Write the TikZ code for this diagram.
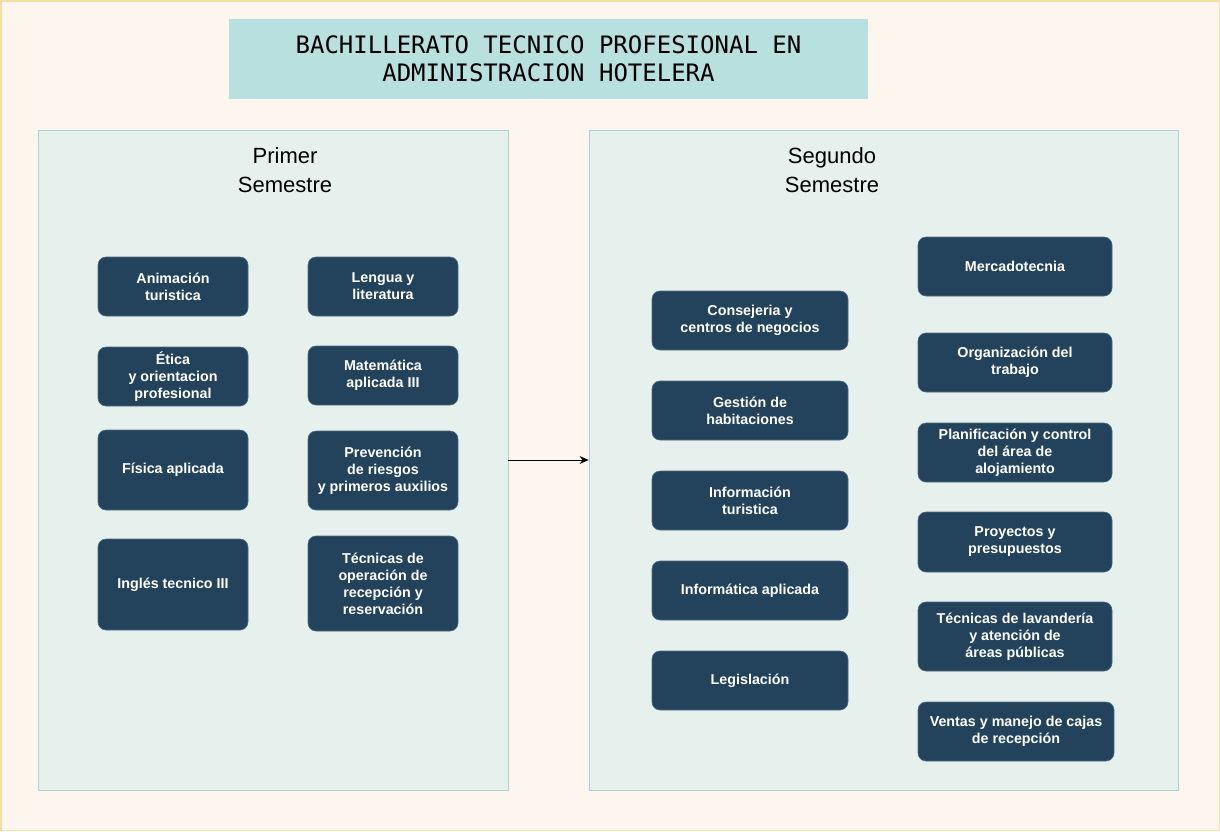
\documentclass[tikz,border=0pt]{standalone}
\usepackage{fontspec}
\setmainfont{Liberation Sans}
\newfontfamily\titlefont{DejaVu Sans Mono}
\usetikzlibrary{arrows.meta}

\definecolor{pagebg}{HTML}{FDF6EF}
\definecolor{pageline}{HTML}{F3DFA4}
\definecolor{titlefill}{HTML}{B8E0DE}
\definecolor{panelfill}{HTML}{E6F1ED}
\definecolor{panelline}{HTML}{A9D3D5}
\definecolor{coursefill}{HTML}{23425B}
\definecolor{courseline}{HTML}{4E6B80}

\tikzset{
  panel/.style={draw=panelline, fill=panelfill, line width=0.8pt},
  course/.style={draw=courseline, fill=coursefill, rounded corners=8pt,
    text=white, align=center, inner sep=2pt, line width=0.6pt,
    font=\fontsize{14.3}{17}\selectfont\bfseries},
  semtitle/.style={align=center, font=\fontsize{22}{29}\selectfont},
}

\begin{document}
\begin{tikzpicture}[x=1pt, y=-1pt]
        \useasboundingbox (0,0) rectangle (1220,831);
        \fill [pagebg] (0,0) rectangle (1220,831);
        \draw [pageline, line width=1.5pt] (0.75,0.75) rectangle (1219.25,830.25);

        % title
        \node [fill=titlefill, minimum width=639pt, minimum height=80pt, align=center,
               font=\titlefont\fontsize{24}{28}\selectfont] (title) at (548.5,59)
               {BACHILLERATO TECNICO PROFESIONAL EN\\ADMINISTRACION HOTELERA};

        % semesters
        \node [panel, minimum width=470pt, minimum height=660pt] (sem1) at (273,460) {};
        \node [panel, minimum width=589pt, minimum height=660pt] (sem2) at (883.5,460) {};
        \node [semtitle] (sem1title) at (285,170) {Primer\\Semestre};
        \node [semtitle] (sem2title) at (832,170) {Segundo\\Semestre};

        \draw [-{Stealth[length=9pt, width=8pt]}, line width=0.8pt] (sem1.east) -- (sem2.west);

        % primer semestre
        \node [course, minimum width=150pt, minimum height=59pt] (anim) at (173,286.5) {Animación\\turistica};
        \node [course, minimum width=150pt, minimum height=59pt] (lengua) at (383,286.5) {Lengua y\\literatura};
        \node [course, minimum width=150pt, minimum height=59pt] (etica) at (173,376.5) {Ética\\y orientacion\\profesional};
        \node [course, minimum width=150pt, minimum height=59pt] (mate) at (383,375.5) {Matemática\\aplicada III};
        \node [course, minimum width=150pt, minimum height=80pt] (fisica) at (173,470) {Física aplicada};
        \node [course, minimum width=150pt, minimum height=79pt] (riesgos) at (383,470.5) {Prevención\\de riesgos\\y primeros auxilios};
        \node [course, minimum width=150pt, minimum height=91pt] (ingles) at (173,584.5) {Inglés tecnico III};
        \node [course, minimum width=150pt, minimum height=95pt] (recep) at (383,583.5) {Técnicas de\\operación de\\recepción y\\reservación};

        % segundo semestre
        \node [course, minimum width=196pt, minimum height=59pt] (conse) at (750,320.5) {Consejeria y\\centros de negocios};
        \node [course, minimum width=196pt, minimum height=59pt] (habit) at (750,410.5) {Gestión de\\habitaciones};
        \node [course, minimum width=196pt, minimum height=59pt] (infotur) at (750,500.5) {Información\\turistica};
        \node [course, minimum width=196pt, minimum height=59pt] (infoapl) at (750,590.5) {Informática aplicada};
        \node [course, minimum width=196pt, minimum height=59pt] (legis) at (750,680.5) {Legislación};

        \node [course, minimum width=194pt, minimum height=59pt] (merca) at (1015,266.5) {Mercadotecnia};
        \node [course, minimum width=194pt, minimum height=59pt] (organ) at (1015,362.5) {Organización del\\trabajo};
        \node [course, minimum width=194pt, minimum height=59pt] (aloja) at (1015,452.5) {Planificación y control\\del área de\\alojamiento};
        \node [course, minimum width=194pt, minimum height=60pt] (proy) at (1015,542) {Proyectos y\\presupuestos};
        \node [course, minimum width=194pt, minimum height=69pt] (lavan) at (1015,636.5) {Técnicas de lavandería\\y atención de\\áreas públicas};
        \node [course, minimum width=196pt, minimum height=59pt] (ventas) at (1016,731.5) {Ventas y manejo de cajas\\de recepción};
\end{tikzpicture}
\end{document}
